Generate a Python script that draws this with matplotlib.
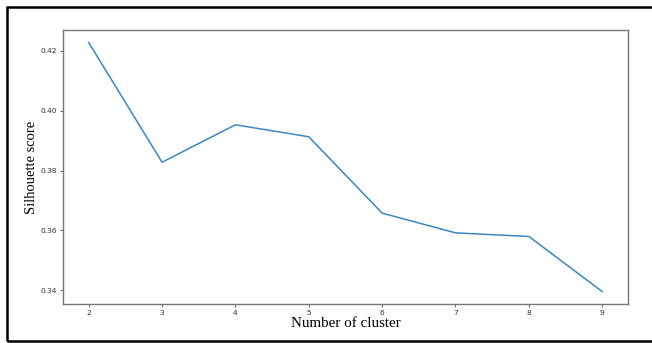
import matplotlib
matplotlib.use("Agg")
import matplotlib.pyplot as plt
from matplotlib.patches import Rectangle

# クラスタ数とシルエットスコア
n_cluster = [2, 3, 4, 5, 6, 7, 8, 9]
silhouette = [0.4228, 0.3828, 0.3953, 0.3913, 0.3658, 0.3592, 0.3580, 0.3396]

fig = plt.figure(figsize=(6.52, 3.43), dpi=100)
ax = fig.add_axes([0.0966, 0.1137, 0.8664, 0.7988])

ax.plot(n_cluster, silhouette, color="#3a87c4", linewidth=1.1)

ax.set_xticks(n_cluster)
ax.set_yticks([0.34, 0.36, 0.38, 0.40, 0.42])
ax.set_yticklabels(["0.34", "0.36", "0.38", "0.40", "0.42"])
ax.tick_params(labelsize=5.4, labelcolor="#333333", length=2.5, width=0.6, color="#444444", pad=2)

for s in ax.spines.values():
    s.set_color("#777777")
    s.set_linewidth(1.0)

ax.set_xlabel("Number of cluster", family="Liberation Serif", fontsize=10.8, labelpad=0.5)
ax.set_ylabel("Silhouette score", family="Liberation Serif", fontsize=10.5, labelpad=1.5)

# 外枠
fig.add_artist(Rectangle((6.5 / 652, 1 - 340.5 / 343), 1.2, (340.5 - 6.5) / 343,
                         transform=fig.transFigure, fill=False,
                         edgecolor="black", linewidth=1.8))

fig.savefig("out.png", dpi=100)
